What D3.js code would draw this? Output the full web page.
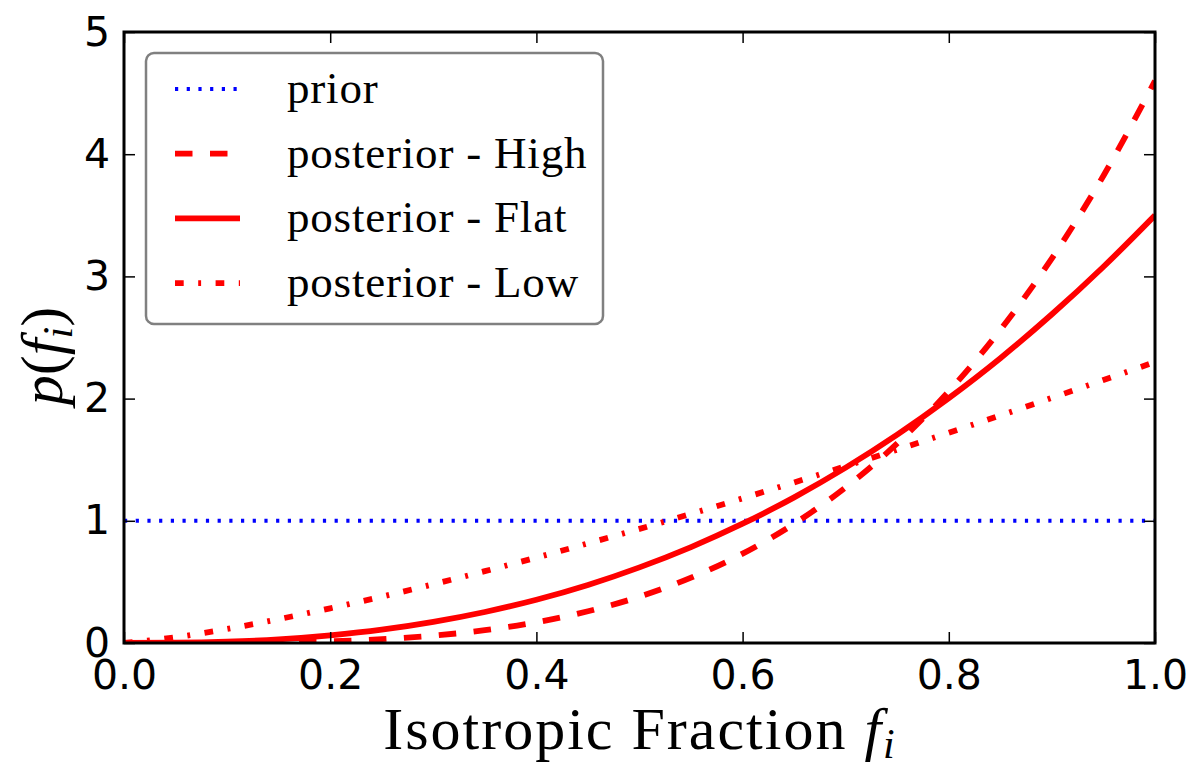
<!DOCTYPE html>
<html>
<head>
<meta charset="utf-8">
<script src="https://cdn.jsdelivr.net/npm/d3@7"></script>
<style>
body { margin: 0; background: #fff; }
</style>
</head>
<body>
<div class="stage"></div>
<script>
// values
var fracs = [0, 0.05, 0.1, 0.15, 0.2, 0.25, 0.3, 0.35, 0.4, 0.45, 0.5,
             0.55, 0.6, 0.65, 0.7, 0.75, 0.8, 0.85, 0.9, 0.95, 1.0];
var prior = [1, 1, 1, 1, 1, 1, 1, 1, 1, 1, 1, 1, 1, 1, 1, 1, 1, 1, 1, 1, 1];
var postHigh = [0, 0.0001, 0.0012, 0.005, 0.014, 0.031, 0.06, 0.105, 0.17, 0.26, 0.379,
                0.535, 0.731, 0.976, 1.274, 1.633, 2.06, 2.563, 3.148, 3.824, 4.6];
var postFlat = [0, 0.002, 0.011, 0.03, 0.063, 0.109, 0.173, 0.254, 0.354, 0.475, 0.619,
                0.785, 0.976, 1.192, 1.435, 1.705, 2.004, 2.331, 2.69, 3.079, 3.5];
var postLow = [0, 0.047, 0.115, 0.195, 0.284, 0.379, 0.481, 0.588, 0.699, 0.815, 0.934,
               1.057, 1.184, 1.314, 1.447, 1.582, 1.721, 1.862, 2.006, 2.152, 2.3];
var seriesNames = ["prior", "posterior - High", "posterior - Flat", "posterior - Low"];
var xTicks = [0, 0.2, 0.4, 0.6, 0.8, 1.0];
var yTicks = [0, 1, 2, 3, 4, 5];

var W = 1195, H = 766;
var plot = {left: 124, right: 1155, top: 32, bottom: 643};

var svg = d3.select(".stage").append("svg").attr("width", W).attr("height", H);

var x = d3.scaleLinear().domain([0, 1]).range([plot.left, plot.right]);
var y = d3.scaleLinear().domain([0, 5]).range([plot.bottom, plot.top]);

// line looks, same order as seriesNames
var looks = [
  {color: "#0000ff", width: 4, dash: "3.2,8.5"},
  {color: "#ff0000", width: 5.8, dash: "17.5,17.5"},
  {color: "#ff0000", width: 5.8, dash: null},
  {color: "#ff0000", width: 5.8, dash: "8.7,14.5,2.9,14.5"}
];
var allSeries = [prior, postHigh, postFlat, postLow];

svg.append("clipPath").attr("id", "plotclip")
  .append("rect")
  .attr("x", plot.left).attr("y", plot.top)
  .attr("width", plot.right - plot.left).attr("height", plot.bottom - plot.top);

var line = d3.line()
  .x(function(d, i){ return x(fracs[i]); })
  .y(function(d){ return y(d); })
  .curve(d3.curveMonotoneX);

svg.append("g").attr("clip-path", "url(#plotclip)")
  .selectAll("path.curve").data(allSeries).enter()
  .append("path")
  .attr("class", "curve")
  .attr("d", line)
  .attr("fill", "none")
  .attr("stroke", function(d, i){ return looks[i].color; })
  .attr("stroke-width", function(d, i){ return looks[i].width; })
  .attr("stroke-dasharray", function(d, i){ return looks[i].dash; });

// axes, ticks pointing inward on all four sides
var tickFont = "'DejaVu Sans', sans-serif";
var fmt = d3.format(".1f");

var axBottom = svg.append("g").attr("transform", "translate(0," + plot.bottom + ")")
  .call(d3.axisBottom(x).tickValues(xTicks).tickFormat(fmt).tickSizeInner(-11).tickSizeOuter(0).tickPadding(16.5));
var axLeft = svg.append("g").attr("transform", "translate(" + plot.left + ",0)")
  .call(d3.axisLeft(y).tickValues(yTicks).tickFormat(d3.format("d")).tickSizeInner(-11).tickSizeOuter(0).tickPadding(14));
var axTop = svg.append("g").attr("transform", "translate(0," + plot.top + ")")
  .call(d3.axisTop(x).tickValues(xTicks).tickFormat("").tickSizeInner(-11).tickSizeOuter(0));
var axRight = svg.append("g").attr("transform", "translate(" + plot.right + ",0)")
  .call(d3.axisRight(y).tickValues(yTicks).tickFormat("").tickSizeInner(-11).tickSizeOuter(0));

[axBottom, axLeft, axTop, axRight].forEach(function(g){
  g.select(".domain").remove();
  g.selectAll(".tick line").attr("stroke", "#000").attr("stroke-width", 1.5);
  g.selectAll(".tick text").attr("fill", "#000")
    .style("font-family", tickFont).style("font-size", "41px");
});

svg.append("rect")
  .attr("x", plot.left).attr("y", plot.top)
  .attr("width", plot.right - plot.left).attr("height", plot.bottom - plot.top)
  .attr("fill", "none").attr("stroke", "#000").attr("stroke-width", 3);

// axis titles
var serif = "'Liberation Serif', 'Times New Roman', serif";

var xlab = svg.append("text")
  .attr("x", 640).attr("y", 749)
  .attr("text-anchor", "middle")
  .style("font-family", serif).style("font-size", "60px").style("letter-spacing", "2px");
xlab.append("tspan").text("Isotropic Fraction ");
xlab.append("tspan").style("font-style", "italic").text("f");
xlab.append("tspan").attr("dy", 9).style("font-style", "italic").style("font-size", "42px").text("i");

var ylab = svg.append("text")
  .attr("transform", "translate(62,356) rotate(-90)")
  .attr("text-anchor", "middle")
  .style("font-family", serif).style("font-size", "60px");
ylab.append("tspan").style("font-style", "italic").text("p");
ylab.append("tspan").text("(");
ylab.append("tspan").style("font-style", "italic").text("f");
ylab.append("tspan").attr("dy", 10).style("font-style", "italic").style("font-size", "42px").text("i");
ylab.append("tspan").attr("dy", -10).text(")");

// legend
var legend = svg.append("g");
legend.append("rect")
  .attr("x", 146).attr("y", 53).attr("width", 457).attr("height", 271)
  .attr("rx", 8).attr("ry", 8)
  .attr("fill", "#fff").attr("stroke", "#808080").attr("stroke-width", 2.5);

var item = legend.selectAll("g.item").data(seriesNames).enter()
  .append("g").attr("class", "item")
  .attr("transform", function(d, i){ return "translate(0," + (103 + i * 64.7) + ")"; });

item.append("line")
  .attr("x1", 175).attr("x2", 240).attr("y1", -14).attr("y2", -14)
  .attr("stroke", function(d, i){ return looks[i].color; })
  .attr("stroke-width", function(d, i){ return looks[i].width; })
  .attr("stroke-dasharray", function(d, i){ return looks[i].dash; });

item.append("text")
  .attr("x", 287).attr("y", 0)
  .style("font-family", serif).style("font-size", "45px").style("letter-spacing", "0.8px")
  .text(function(d){ return d; });
</script>
</body>
</html>
